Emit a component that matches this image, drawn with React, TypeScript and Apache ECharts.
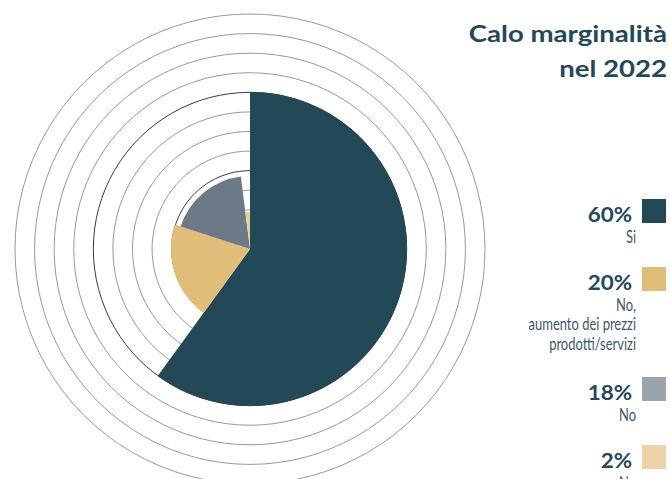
import React, { useEffect, useRef } from "react";
import * as echarts from "echarts";

// ---- data ----
const CATEGORIES = ["Si", "No, aumento dei prezzi prodotti/servizi", "No", "No"];
const VALUES = [60, 20, 18, 2];
const VALUE_LABELS = ["60%", "20%", "18%", "2%"];
const SUB_LABELS = [["Si"], ["No,", "aumento dei prezzi", "prodotti/servizi"], ["No"], ["No"]];
const TITLE_LINES = ["Calo marginalità", "nel 2022"];
const RING_COUNT = 12;

// ---- styles ----
const SLICE_COLORS = ["#234856", "#E0BD78", "#6C7A88", "#EAD09C"];
const LEGEND_COLORS = ["#234856", "#E0BD78", "#9BA3AC", "#EDD4A6"];
const SLICE_RADII = [157, 79, 73, 37];
const CENTER = [250, 249];
const RING_COLORS = ["#999", "#999", "#999", "#999", "#3a3a3a", "#999", "#999", "#999", "#3a3a3a", "#999", "#999", "#999", "#999"];
const DARK = "#23485a";
const SUB = "#3b5968";
const FONT = "Lato";

export default function App() {
  const ref = useRef<HTMLDivElement>(null);
  useEffect(() => {
    if (!ref.current) return;
    const chart = echarts.init(ref.current, undefined, { renderer: "svg" });

    const graphics: any[] = [];
    TITLE_LINES.forEach((t, i) => {
      graphics.push({
        type: "text",
        x: 667,
        y: 32.5 + i * 35,
        scaleX: 1.2,
        style: { text: t, fill: DARK, fontSize: 23, fontWeight: "bold", fontFamily: FONT, align: "right", verticalAlign: "middle" },
      });
    });
    let y0 = 199;
    VALUE_LABELS.forEach((vl, i) => {
      graphics.push({ type: "rect", shape: { x: 642, y: y0, width: 24, height: 24 }, style: { fill: LEGEND_COLORS[i] } });
      graphics.push({
        type: "text",
        x: 632,
        y: y0 + 15.8,
        scaleX: 1.12,
        style: { text: vl, fill: DARK, fontSize: 20, fontWeight: "bold", fontFamily: FONT, align: "right", verticalAlign: "middle" },
      });
      SUB_LABELS[i].forEach((line, j) => {
        graphics.push({
          type: "text",
          x: 636,
          y: y0 + 44 - 7 + j * 19.5,
          scaleX: 0.72,
          style: { text: line, fill: SUB, fontSize: 18, fontWeight: 400, fontFamily: FONT, align: "right", verticalAlign: "middle" },
        });
      });
      y0 += 47 + 21 * SUB_LABELS[i].length;
    });

    const series = VALUES.map((_, k) => ({
      type: "pie",
      center: CENTER,
      radius: [0, SLICE_RADII[k]],
      startAngle: 90,
      clockwise: true,
      silent: true,
      z: 3,
      label: { show: false },
      labelLine: { show: false },
      emphasis: { disabled: true },
      itemStyle: { borderWidth: 0 },
      data: VALUES.map((v, i) => ({
        name: CATEGORIES[i],
        value: v,
        itemStyle: { color: i === k ? SLICE_COLORS[k] : "rgba(0,0,0,0)", borderWidth: 0 },
      })),
    }));

    chart.setOption({
      animation: false,
      backgroundColor: "#fff",
      polar: { center: CENTER, radius: 235 },
      angleAxis: {
        type: "value",
        min: 0,
        max: 100,
        show: false,
        axisLine: { show: false },
        splitLine: { show: false },
        axisTick: { show: false },
        axisLabel: { show: false },
      },
      radiusAxis: {
        type: "value",
        min: 0,
        max: RING_COUNT,
        interval: 1,
        axisLine: { show: false },
        axisTick: { show: false },
        axisLabel: { show: false },
        splitLine: { show: true, lineStyle: { color: RING_COLORS, width: 1 } },
      },
      series,
      graphic: graphics,
    });
    return () => chart.dispose();
  }, []);
  return <div ref={ref} style={{ position: "absolute", left: 0, top: 0, width: 670, height: 479 }} />;
}
